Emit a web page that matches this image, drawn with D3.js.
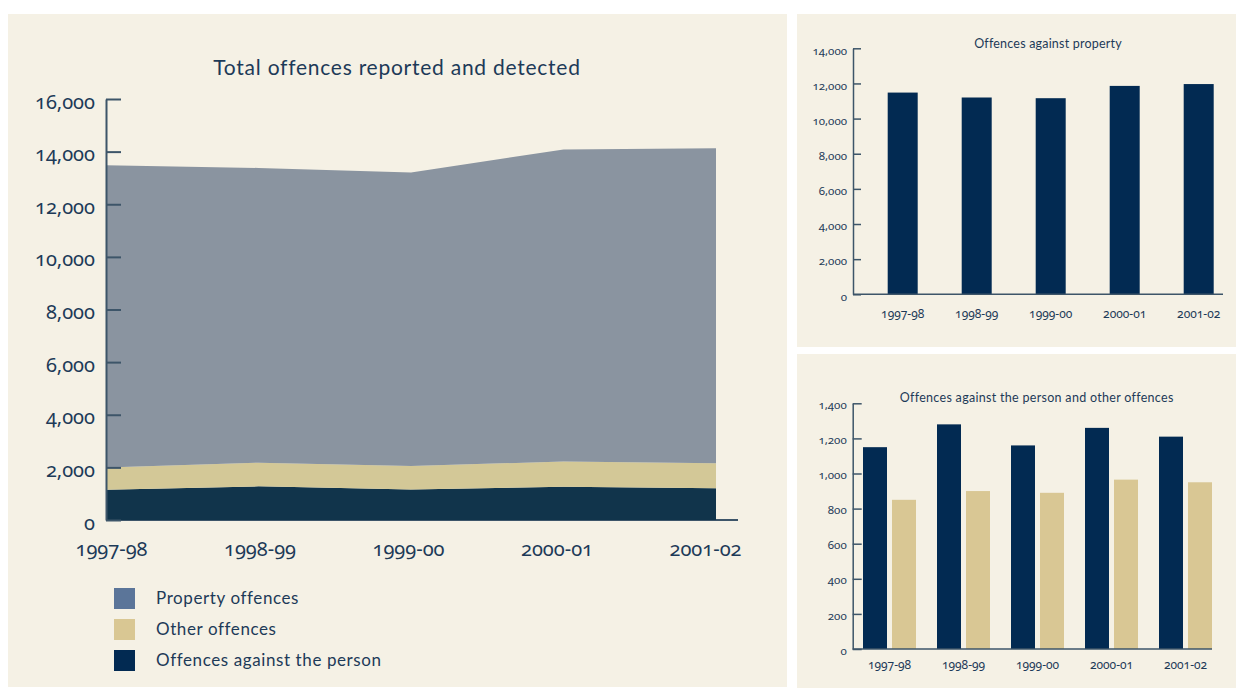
<!DOCTYPE html>
<html>
<head>
<meta charset="utf-8">
<script src="https://cdn.jsdelivr.net/npm/d3@7"></script>
<style>
  html, body { margin: 0; padding: 0; background: #ffffff; }
  svg { display: block; }
  text { font-family: Lato, "Open Sans", sans-serif; fill: #1d3a58; }
  .num { font-family: "Noto Sans", Lato, sans-serif; font-variant-numeric: oldstyle-nums; font-feature-settings: "onum" 1; }
</style>
</head>
<body>
<svg id="chart" width="1236" height="688"></svg>
<script>
// Financial years on every chart
const years = ["1997-98", "1998-99", "1999-00", "2000-01", "2001-02"];

// Offences per year, by type
const personOffences   = [1150, 1280, 1160, 1260, 1210];
const otherOffences    = [850, 900, 890, 965, 950];
const propertyOffences = [11480, 11200, 11160, 11860, 11965];

// Axis ticks
const totalTicks    = [0, 2000, 4000, 6000, 8000, 10000, 12000, 14000, 16000];
const propertyTicks = [0, 2000, 4000, 6000, 8000, 10000, 12000, 14000];
const personTicks   = [0, 200, 400, 600, 800, 1000, 1200, 1400];

// Legend entries (top to bottom)
const legendLabels = ["Property offences", "Other offences", "Offences against the person"];

const panelFill = "#f5f1e5";
const axisColor = "#3d5569";
const textColor = "#1d3a58";
const navy = "#022a52";
const tan = "#d9c794";

const svg = d3.select("#chart");
const fmt = d3.format(",");

// Panels
svg.append("rect").attr("x", 8).attr("y", 14).attr("width", 779).attr("height", 673).attr("fill", panelFill);
svg.append("rect").attr("x", 797).attr("y", 14).attr("width", 439).attr("height", 333).attr("fill", panelFill);
svg.append("rect").attr("x", 797).attr("y", 354).attr("width", 439).attr("height", 334).attr("fill", panelFill);

function styleTickText(sel, size, dy) {
  sel.attr("font-size", size).attr("dy", dy)
    .attr("class", "num")
    .attr("font-family", null)
    .attr("fill", textColor);
}

// ---------- Stacked area: total offences ----------
{
  const rows = years.map((y, i) => ({
    year: y,
    person: personOffences[i],
    other: otherOffences[i],
    property: propertyOffences[i]
  }));
  const keys = ["person", "other", "property"];
  const areaFill = { person: "#11344b", other: "#d3c897", property: "#8a94a0" };

  const x = d3.scalePoint().domain(years).range([106, 716]);
  const xLabels = d3.scalePoint().domain(years).range([111, 705]);
  const y = d3.scaleLinear().domain([0, 16000]).range([520, 99]);

  const series = d3.stack().keys(keys)(rows);
  const area = d3.area()
    .x(d => x(d.data.year))
    .y0(d => y(d[0]))
    .y1(d => y(d[1]));

  // x axis baseline
  svg.append("line")
    .attr("x1", 106).attr("x2", 738)
    .attr("y1", y(0)).attr("y2", y(0))
    .attr("stroke", axisColor).attr("stroke-width", 2);

  svg.append("g").selectAll("path")
    .data(series)
    .join("path")
    .attr("d", area)
    .attr("fill", d => areaFill[d.key]);

  const yAxis = d3.axisLeft(y).tickValues(totalTicks).tickFormat(fmt)
    .tickSizeInner(-15).tickSizeOuter(0).tickPadding(11);
  const gy = svg.append("g").attr("transform", "translate(106,0)").call(yAxis);
  gy.select(".domain").attr("stroke", axisColor).attr("stroke-width", 2);
  gy.selectAll(".tick line").attr("stroke", axisColor).attr("stroke-width", 2);
  styleTickText(gy.selectAll(".tick text"), 20, "0.45em");

  const xAxis = d3.axisBottom(xLabels).tickSize(0).tickPadding(0);
  const gx = svg.append("g").attr("transform", "translate(0,540)").call(xAxis);
  gx.select(".domain").remove();
  styleTickText(gx.selectAll(".tick text"), 20, "0.8em");

  svg.append("text")
    .attr("x", 397).attr("y", 75)
    .attr("text-anchor", "middle")
    .attr("font-size", 21)
    .attr("letter-spacing", 0.75)
    .text("Total offences reported and detected");

  // Legend
  const legendColors = ["#5b7599", "#d9c793", navy];
  const ly = d3.scalePoint().domain(legendLabels).range([598.5, 660.5]);
  const lg = svg.append("g").selectAll("g")
    .data(legendLabels)
    .join("g")
    .attr("transform", d => `translate(0,${ly(d)})`);
  lg.append("rect")
    .attr("x", 114).attr("y", -10.5).attr("width", 21).attr("height", 21)
    .attr("fill", (d, i) => legendColors[i]);
  lg.append("text")
    .attr("x", 156).attr("dy", "0.35em")
    .attr("font-size", 17)
    .attr("letter-spacing", 0.6)
    .text(d => d);
}

// ---------- Bars: offences against property ----------
{
  const x = d3.scaleBand().domain(years)
    .range([865.7, 1235.7]).paddingInner(44 / 74).paddingOuter(22 / 74);
  const y = d3.scaleLinear().domain([0, 14000]).range([294.3, 48.3]);

  svg.append("g").selectAll("rect")
    .data(propertyOffences)
    .join("rect")
    .attr("x", (d, i) => x(years[i]))
    .attr("width", x.bandwidth())
    .attr("y", d => y(d))
    .attr("height", d => y(0) - y(d))
    .attr("fill", navy);

  svg.append("line")
    .attr("x1", 853).attr("x2", 1223)
    .attr("y1", y(0)).attr("y2", y(0))
    .attr("stroke", axisColor).attr("stroke-width", 1.5);

  const yAxis = d3.axisLeft(y).tickValues(propertyTicks).tickFormat(fmt)
    .tickSizeInner(-8).tickSizeOuter(0).tickPadding(6);
  const gy = svg.append("g").attr("transform", "translate(853,0)").call(yAxis);
  gy.select(".domain").attr("stroke", axisColor).attr("stroke-width", 1.5);
  gy.selectAll(".tick line").attr("stroke", axisColor).attr("stroke-width", 1.5);
  styleTickText(gy.selectAll(".tick text"), 11.5, "0.5em");

  const gx = svg.append("g").attr("transform", "translate(0,310)")
    .call(d3.axisBottom(x).tickSize(0).tickPadding(0));
  gx.select(".domain").remove();
  styleTickText(gx.selectAll(".tick text"), 12, "0.7em");

  svg.append("text")
    .attr("x", 1048).attr("y", 48)
    .attr("text-anchor", "middle")
    .attr("font-size", 12.5)
    .attr("letter-spacing", 0.2)
    .text("Offences against property");
}

// ---------- Grouped bars: person and other offences ----------
{
  const x0 = d3.scaleBand().domain(years)
    .range([852.5, 1222.5]).paddingInner(21 / 74).paddingOuter(10.5 / 74);
  const groupKeys = ["person", "other"];
  const x1 = d3.scaleBand().domain(groupKeys)
    .range([0, x0.bandwidth()]).paddingInner(5 / 29).paddingOuter(0);
  const y = d3.scaleLinear().domain([0, 1400]).range([649, 403.3]);
  const fill = { person: navy, other: tan };

  const groups = svg.append("g").selectAll("g")
    .data(years.map((yr, i) => ({ year: yr, person: personOffences[i], other: otherOffences[i] })))
    .join("g")
    .attr("transform", d => `translate(${x0(d.year)},0)`);
  groups.selectAll("rect")
    .data(d => groupKeys.map(k => ({ key: k, value: d[k] })))
    .join("rect")
    .attr("x", d => x1(d.key))
    .attr("width", x1.bandwidth())
    .attr("y", d => y(d.value))
    .attr("height", d => y(0) - y(d.value))
    .attr("fill", d => fill[d.key]);

  svg.append("line")
    .attr("x1", 852.7).attr("x2", 1212)
    .attr("y1", y(0)).attr("y2", y(0))
    .attr("stroke", axisColor).attr("stroke-width", 1.5);

  const yAxis = d3.axisLeft(y).tickValues(personTicks).tickFormat(fmt)
    .tickSizeInner(-9).tickSizeOuter(0).tickPadding(6);
  const gy = svg.append("g").attr("transform", "translate(852.7,0)").call(yAxis);
  gy.select(".domain").attr("stroke", axisColor).attr("stroke-width", 1.5);
  gy.selectAll(".tick line").attr("stroke", axisColor).attr("stroke-width", 1.5);
  styleTickText(gy.selectAll(".tick text"), 11.5, "0.45em");

  const gx = svg.append("g").attr("transform", "translate(0,661)")
    .call(d3.axisBottom(x0).tickSize(0).tickPadding(0));
  gx.select(".domain").remove();
  styleTickText(gx.selectAll(".tick text"), 12, "0.7em");

  svg.append("text")
    .attr("x", 1036.7).attr("y", 402)
    .attr("text-anchor", "middle")
    .attr("font-size", 12.5)
    .attr("letter-spacing", 0.3)
    .text("Offences against the person and other offences");
}
</script>
</body>
</html>
